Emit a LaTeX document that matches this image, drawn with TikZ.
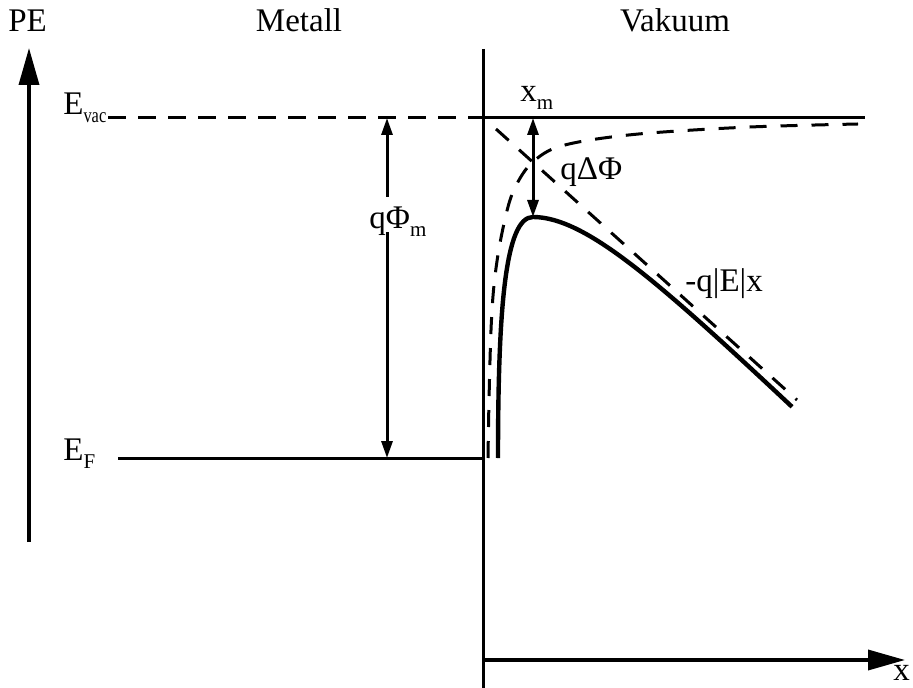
\documentclass[tikz,border=0pt]{standalone}
\usepackage{fontspec}
\setmainfont{Liberation Serif}
\usetikzlibrary{arrows.meta}
\newcommand{\lbsub}[1]{\raisebox{-4pt}{\fontsize{10.5}{12}\selectfont #1}}
\newcommand{\lbsubn}[1]{\raisebox{-4pt}{\scalebox{0.78}[1]{\fontsize{10.5}{12}\selectfont #1}}}
\begin{document}
\begin{tikzpicture}[x=0.5pt,y=-0.5pt,
  lbl/.style={font=\fontsize{16.5}{19}\selectfont, inner sep=0pt, anchor=base west},
  axisline/.style={line width=1.75pt},
  bigarrow/.style={axisline, -{Triangle[length=18.5pt,width=10pt]}},
  smallarrow/.style={line width=1.5pt, {Triangle[length=8.5pt,width=5.5pt]}-{Triangle[length=8.5pt,width=5.5pt]}},
  level/.style={line width=1.5pt},
  dashlevel/.style={line width=1.5pt, dash pattern=on 9pt off 6pt},
  dashcurve/.style={line width=1.5pt, dash pattern=on 8.5pt off 7pt},
  maincurve/.style={line width=2.2pt, line join=round}]
\useasboundingbox (0,0) rectangle (913,688);
% coordinates
\coordinate (peB) at (29,542);
\coordinate (peT) at (29,48);
\coordinate (surfT) at (483,49);
\coordinate (surfB) at (483,688);
\coordinate (xaL) at (483,660);
\coordinate (xaR) at (905,660);
\coordinate (vacL) at (108,118);
\coordinate (vacM) at (483,118);
\coordinate (vacR) at (865,118);
\coordinate (efL) at (118,458);
\coordinate (efR) at (483,458);
\coordinate (phiT) at (387,118);
\coordinate (phiB) at (387,458);
\coordinate (dphiT) at (533,118);
\coordinate (dphiB) at (533,217);
\coordinate (fldA) at (496,129);
\coordinate (fldB) at (797,400);
\coordinate (curveS) at (498,458);
% axes
\draw[bigarrow] (peB) -- (peT);
\draw[level] (surfT) -- (surfB);
\draw[bigarrow] (xaL) -- (xaR);
% levels
\draw[dashlevel] (vacL) -- (vacM);
\draw[level] (vacM) -- (vacR);
\draw[level] (efL) -- (efR);
% curves
\draw[dashcurve] (fldA) -- (fldB);
\draw[dashcurve] plot[smooth, tension=0.55] coordinates {(488,458) (489,400) (491,330) (494,285) (500,243) (510,200) (522,175) (535,160) (555,148) (590,140) (650,133) (750,127) (858,124)};
\draw[maincurve] (curveS) .. controls (498,310) and (505,217) .. (dphiB)
  -- plot[domain=533:792, samples=50] (\x, {217+0.95*(\x-533)-57*(1-exp(-(\x-533)/60))});
% arrows
\draw[smallarrow] (phiT) -- (phiB);
\draw[smallarrow] (dphiT) -- (dphiB);
% labels
\node[lbl] (pe) at (8,32) {PE};
\node[lbl, anchor=base] (metall) at (299,32) {Metall};
\node[lbl, anchor=base] (vakuum) at (675,32) {Vakuum};
\node[lbl] (evac) at (63,115) {E\lbsubn{vac}};
\node[lbl] (ef) at (63,460) {E\lbsub{F}};
\node[lbl, fill=white, inner xsep=1pt, text height=16pt, text depth=1.5pt] (phim) at (367,229) {qΦ\lbsub{m}};
\node[lbl] (xm) at (520,102) {x\lbsub{m}};
\node[lbl] (dphi) at (560,180) {qΔΦ};
\node[lbl] (field) at (685,292) {-q|E|x};
\node[lbl] (xlab) at (893,680) {x};
\end{tikzpicture}
\end{document}
